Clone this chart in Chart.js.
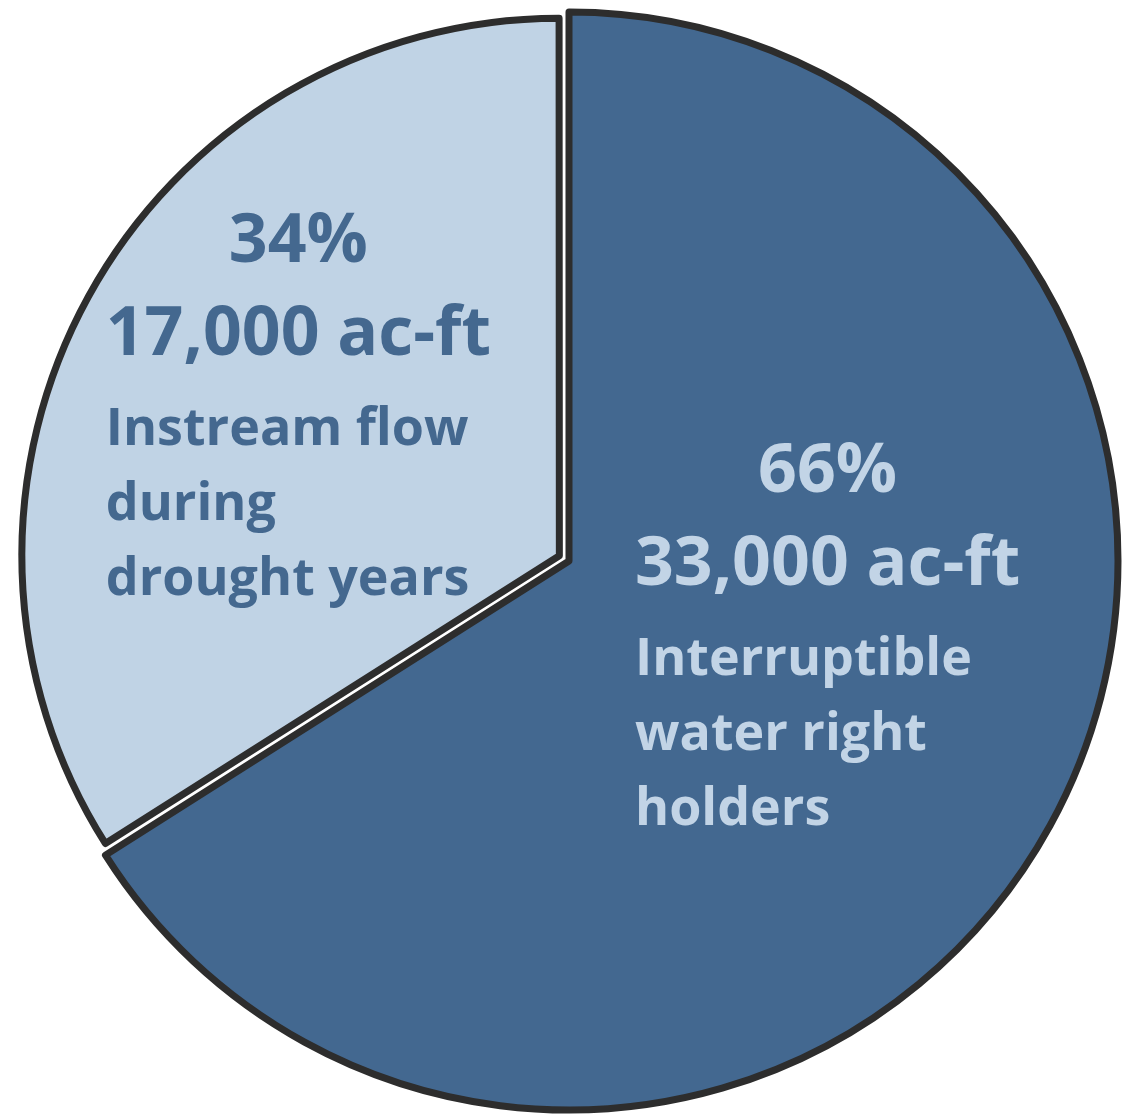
<!DOCTYPE html>
<html>
<head>
<meta charset="utf-8">
<script src="https://cdn.jsdelivr.net/npm/chart.js@4.4.1/dist/chart.umd.min.js"></script>
<style>
  html, body { margin: 0; padding: 0; background: #ffffff; }
  #wrap { width: 1122px; height: 1116px; position: relative; }
</style>
</head>
<body>
<div id="wrap"><canvas id="c"></canvas></div>
<script>
// ---- Data ----
const categories = [
  ['Interruptible', 'water right', 'holders'],
  ['Instream flow', 'during', 'drought years']
];
const values = [33000, 17000];          // acre-feet
const unitLabel = 'ac-ft';

// ---- Styles ----
const sliceColors = ['#436890', '#c0d3e5'];
const textColors  = ['#c2d4e6', '#44688f'];
const sliceOffsets = [0, 44];
const sliceRadiusScale = [1, 0.976];
// label anchor (fraction of radius from pie centre)
const labelAnchors = [[0.471, -0.125], [-0.493, -0.544]];

const total = values.reduce((a, b) => a + b, 0);

const radiusPlugin = {
  id: 'sliceRadius',
  afterDatasetUpdate(chart, args) {
    const meta = chart.getDatasetMeta(args.index);
    const base = meta.controller.outerRadius;
    meta.data.forEach((arc, i) => { arc.outerRadius = base * sliceRadiusScale[i]; });
  }
};

const labelPlugin = {
  id: 'sliceLabels',
  afterDatasetsDraw(chart) {
    const meta = chart.getDatasetMeta(0);
    const R = meta.controller.outerRadius;
    const ctx = chart.ctx;
    ctx.save();
    meta.data.forEach((arc, i) => {
      const ax = arc.x + labelAnchors[i][0] * R;
      const ay = arc.y + labelAnchors[i][1] * R;
      const pct = Math.round(values[i] / total * 100) + '%';
      const amt = values[i].toLocaleString('en-US') + ' ' + unitLabel;
      ctx.fillStyle = textColors[i];
      ctx.textBaseline = 'alphabetic';
      ctx.font = 'bold 68px "Open Sans"';
      ctx.textAlign = 'center';
      ctx.fillText(pct, ax, ay);
      ctx.fillText(amt, ax, ay + 93);
      const w = ctx.measureText(amt).width;
      const left = ax - w / 2;
      ctx.font = 'bold 52px "Open Sans"';
      ctx.textAlign = 'left';
      categories[i].forEach((line, k) => {
        ctx.fillText(line, left, ay + 183 + k * 75);
      });
    });
    ctx.restore();
  }
};

new Chart(document.getElementById('c'), {
  type: 'pie',
  data: {
    labels: categories.map(c => c.join(' ')),
    datasets: [{
      data: values,
      backgroundColor: sliceColors,
      borderColor: '#2d2d2d',
      borderWidth: 7,
      borderJoinStyle: 'round',
      offset: sliceOffsets,
      hoverOffset: 0
    }]
  },
  options: {
    responsive: true,
    maintainAspectRatio: false,
    animation: false,
    radius: 549,
    layout: { padding: { left: 16, right: 0, top: 6, bottom: 0 } },
    plugins: {
      legend: { display: false },
      tooltip: { enabled: false }
    },
    events: []
  },
  plugins: [radiusPlugin, labelPlugin]
});
</script>
</body>
</html>
